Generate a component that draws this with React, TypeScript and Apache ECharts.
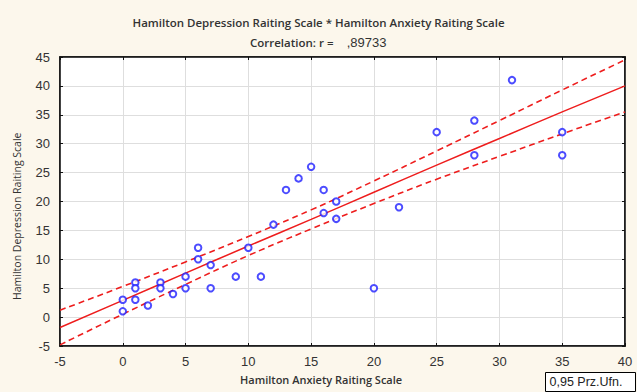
import React, { useEffect, useRef } from "react";
import * as echarts from "echarts";

// Observed data: Hamilton Anxiety (x) vs Hamilton Depression (y)
const anxiety = [0, 0, 1, 1, 1, 2, 3, 3, 4, 5, 5, 6, 6, 7, 7, 9, 10, 11, 12, 13, 14, 15, 16, 16, 17, 17, 20, 22, 25, 28, 28, 31, 35, 35];
const depression = [3, 1, 6, 5, 3, 2, 6, 5, 4, 7, 5, 12, 10, 9, 5, 7, 12, 7, 16, 22, 24, 26, 22, 18, 20, 17, 5, 19, 32, 34, 28, 41, 32, 28];

// Fit line and 0.95 confidence band at each x tick
const bandX = [-5, 0, 5, 10, 15, 20, 25, 30, 35, 40];
const fitY = [-1.8, 2.9, 7.6, 12.3, 16.9, 21.6, 26.3, 30.9, 35.5, 40.0];
const upperY = [1.2, 5.3, 9.55, 13.95, 18.55, 23.55, 28.75, 34.0, 39.3, 44.5];
const lowerY = [-4.8, 0.5, 5.65, 10.65, 15.25, 19.65, 23.85, 27.8, 31.7, 35.5];

const titleText = "Hamilton Depression Raiting Scale * Hamilton Anxiety Raiting Scale";
const xTitle = "Hamilton Anxiety Raiting Scale";
const yTitle = "Hamilton Depression Raiting Scale";
const legendText = "0,95 Prz.Ufn.";

const zip = (xs: number[], ys: number[]) => xs.map((x, i) => [x, ys[i]]);

export default function App() {
  const ref = useRef<HTMLDivElement>(null);
  useEffect(() => {
    if (!ref.current) return;
    const chart = echarts.init(ref.current, undefined, { renderer: "svg" });
    const labelFont = { fontFamily: "Liberation Sans, Arial, sans-serif", fontSize: 13, color: "#333" };
    const axisBase = {
      type: "value" as const,
      min: -5,
      max: 0,
      interval: 5,
    };
    chart.setOption({
      animation: false,
      backgroundColor: "#fcf7ec",
      title: [
        {
          text: titleText,
          left: "center",
          top: 11,
          textStyle: { fontFamily: "Open Sans, sans-serif", fontSize: 11.5, fontWeight: 600, color: "#333" },
        },
      ],
      graphic: [
        {
          type: "text",
          left: 250,
          top: 36,
          style: {
            text: "{a|Correlation: r =  }{b|  ,89733}",
            rich: {
              a: { fontFamily: "Open Sans, sans-serif", fontSize: 11.5, fontWeight: 600, fill: "#333" },
              b: { fontFamily: "Liberation Sans, Arial, sans-serif", fontSize: 13, fill: "#333" },
            },
          },
        },
        {
          type: "text",
          left: 240,
          top: 374,
          style: { text: xTitle, fontFamily: "Open Sans, sans-serif", fontSize: 11, fontWeight: 600, fill: "#333" },
        },
        {
          type: "text",
          x: 11,
          y: 300,
          rotation: Math.PI / 2,
          style: { text: yTitle, fontFamily: "Open Sans, sans-serif", fontSize: 10.5, fill: "#333" },
        },
        {
          type: "group",
          left: 545,
          top: 372,
          children: [
            { type: "rect", shape: { x: 0, y: 0, width: 90, height: 19 }, style: { fill: "#fff", stroke: "#000", lineWidth: 1 } },
            { type: "text", x: 4, y: 3, style: { text: legendText, fontFamily: "Liberation Sans, Arial, sans-serif", fontSize: 12.5, fill: "#222" } },
          ],
        },
      ],
      grid: {
        left: 60,
        right: 12,
        top: 57,
        bottom: 46,
        show: true,
        backgroundColor: "#ffffff",
        borderColor: "#111",
        borderWidth: 1.5,
      },
      xAxis: [
        {
          ...axisBase,
          max: 40,
          position: "bottom",
          axisLine: { show: true, onZero: false, lineStyle: { color: "#111", width: 1.5 } },
          axisTick: { show: true, inside: true, length: 3, lineStyle: { color: "#111" } },
          axisLabel: { ...labelFont, margin: 9 },
          splitLine: { show: true, lineStyle: { color: "#dedede", width: 1 } },
        },
        {
          ...axisBase,
          max: 40,
          position: "top",
          axisLine: { show: true, onZero: false, lineStyle: { color: "#111", width: 1.5 } },
          axisTick: { show: true, inside: true, length: 3, lineStyle: { color: "#111" } },
          axisLabel: { show: false },
          splitLine: { show: false },
        },
      ],
      yAxis: [
        {
          ...axisBase,
          max: 45,
          position: "left",
          axisLine: { show: true, onZero: false, lineStyle: { color: "#111", width: 1.5 } },
          axisTick: { show: true, inside: true, length: 3, lineStyle: { color: "#111" } },
          axisLabel: { ...labelFont, margin: 10 },
          splitLine: { show: true, lineStyle: { color: "#dedede", width: 1 } },
        },
        {
          ...axisBase,
          max: 45,
          position: "right",
          axisLine: { show: true, onZero: false, lineStyle: { color: "#111", width: 1.5 } },
          axisTick: { show: true, inside: true, length: 3, lineStyle: { color: "#111" } },
          axisLabel: { show: false },
          splitLine: { show: false },
        },
      ],
      series: [
        {
          type: "line",
          data: zip(bandX, fitY),
          showSymbol: false,
          smooth: true,
          clip: true,
          lineStyle: { color: "#ee1d1d", width: 1.5 },
          z: 2,
        },
        {
          type: "line",
          data: zip(bandX, upperY),
          showSymbol: false,
          smooth: true,
          clip: true,
          lineStyle: { color: "#ee1d1d", width: 1.6, type: [6, 4] },
          z: 2,
        },
        {
          type: "line",
          data: zip(bandX, lowerY),
          showSymbol: false,
          smooth: true,
          clip: true,
          lineStyle: { color: "#ee1d1d", width: 1.6, type: [6, 4] },
          z: 2,
        },
        {
          type: "scatter",
          data: zip(anxiety, depression),
          symbol: "emptyCircle",
          symbolSize: 6.5,
          itemStyle: { color: "#1f1fff", borderWidth: 1.6 },
          z: 3,
        },
      ],
    });
    return () => chart.dispose();
  }, []);
  return <div ref={ref} style={{ position: "fixed", left: 0, top: 0, width: 637, height: 392 }} />;
}
